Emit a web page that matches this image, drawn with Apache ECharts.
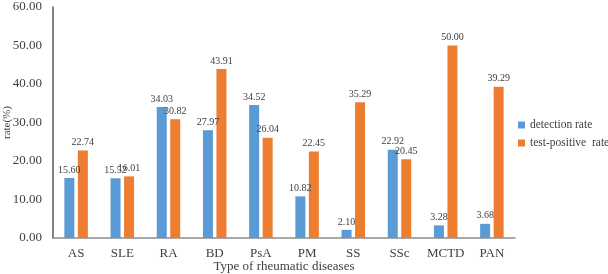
<!DOCTYPE html>
<html>
<head>
<meta charset="utf-8">
<script src="https://cdn.jsdelivr.net/npm/echarts@6/dist/echarts.min.js"></script>
<style>
	html, body { margin: 0; padding: 0; background: #fff; }
	#chart { width: 608px; height: 274px; }
</style>
</head>
<body>
<div id="chart"></div>
<script>
const categories = ['AS', 'SLE', 'RA', 'BD', 'PsA', 'PM', 'SS', 'SSc', 'MCTD', 'PAN'];
const detectionRate = [15.60, 15.52, 34.03, 27.97, 34.52, 10.82, 2.10, 22.92, 3.28, 3.68];
const positiveRate = [22.74, 16.01, 30.82, 43.91, 26.04, 22.45, 35.29, 20.45, 50.00, 39.29];
const seriesNames = ['detection rate', 'test-positive  rate'];

const font = 'Liberation Serif';

const labelStyle = {
	show: true,
	position: 'top',
	distance: 3,
	fontFamily: font,
	fontSize: 10,
	color: '#404040',
	formatter: (p) => p.value.toFixed(2)
};

const myChart = echarts.init(document.getElementById('chart'));

const option = {
	animation: false,
	textStyle: { fontFamily: font },
	grid: { left: 53, right: 93, top: 7, bottom: 36, outerBoundsMode: 'none', containLabel: false },
	legend: {
		orient: 'vertical',
		left: 518,
		top: 119,
		padding: 0,
		itemWidth: 7,
		itemHeight: 7,
		itemGap: 6,
		icon: 'rect',
		textStyle: { fontFamily: font, fontSize: 11.5, color: '#404040' },
		data: seriesNames
	},
	xAxis: {
		type: 'category',
		data: categories,
		name: 'Type of rheumatic diseases',
		nameLocation: 'middle',
		nameGap: 22,
		nameMoveOverlap: false,
		nameTextStyle: { fontFamily: font, fontSize: 13, color: '#404040' },
		axisLine: { lineStyle: { color: '#8c8c8c', width: 1.5 } },
		axisTick: { show: false },
		axisLabel: { interval: 0, fontFamily: font, fontSize: 13, color: '#404040', margin: 9 }
	},
	yAxis: {
		type: 'value',
		min: 0,
		max: 60,
		interval: 10,
		name: 'rate(%)',
		nameLocation: 'middle',
		nameGap: 40,
		nameMoveOverlap: false,
		nameTextStyle: { fontFamily: font, fontSize: 11, color: '#404040' },
		axisLine: { show: true, lineStyle: { color: '#595959', width: 1.5 } },
		axisTick: { show: false },
		splitLine: { show: false },
		axisLabel: {
			fontFamily: font,
			fontSize: 13,
			color: '#404040',
			margin: 11,
			formatter: (v) => v.toFixed(2)
		}
	},
	series: [
		{
			name: seriesNames[0],
			type: 'bar',
			data: detectionRate,
			barWidth: 10,
			barGap: '35%',
			itemStyle: { color: '#5b9bd5' },
			label: labelStyle
		},
		{
			name: seriesNames[1],
			type: 'bar',
			data: positiveRate,
			barWidth: 10,
			itemStyle: { color: '#ed7d31' },
			label: labelStyle
		}
	]
};

myChart.setOption(option);
</script>
</body>
</html>
